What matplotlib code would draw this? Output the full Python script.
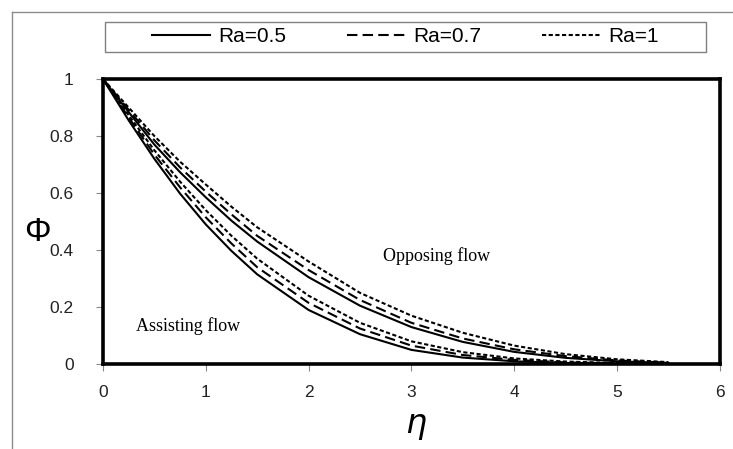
import matplotlib
matplotlib.use("Agg")
import matplotlib.pyplot as plt
from matplotlib.lines import Line2D
from matplotlib.patches import Rectangle

# similarity variable
eta = [0, 0.25, 0.5, 0.75, 1, 1.25, 1.5, 2, 2.5, 3, 3.5, 4, 4.5, 5, 5.5]

# assisting flow profiles
assist_05 = [1, 0.855, 0.72, 0.598, 0.49, 0.397, 0.315, 0.19, 0.105, 0.05, 0.023, 0.01, 0.004, 0.002, 0.001]
assist_07 = [1, 0.865, 0.735, 0.62, 0.515, 0.423, 0.34, 0.215, 0.125, 0.065, 0.032, 0.015, 0.006, 0.003, 0.001]
assist_1 = [1, 0.873, 0.75, 0.64, 0.54, 0.45, 0.37, 0.24, 0.145, 0.08, 0.042, 0.02, 0.009, 0.004, 0.002]

# opposing flow profiles
oppose_05 = [1, 0.884, 0.77, 0.673, 0.585, 0.503, 0.43, 0.305, 0.205, 0.13, 0.078, 0.043, 0.022, 0.01, 0.004]
oppose_07 = [1, 0.892, 0.785, 0.69, 0.605, 0.525, 0.45, 0.33, 0.225, 0.145, 0.09, 0.052, 0.028, 0.013, 0.005]
oppose_1 = [1, 0.90, 0.80, 0.71, 0.63, 0.552, 0.48, 0.36, 0.25, 0.17, 0.11, 0.065, 0.035, 0.017, 0.007]

labels = ["Ra=0.5", "Ra=0.7", "Ra=1"]

sans = "Liberation Sans"
serif = "Liberation Serif"

fig = plt.figure(figsize=(7.33, 4.49), dpi=100)
ax = fig.add_axes([0.1405, 0.189, 0.8415, 0.635])

styles = [
    dict(linestyle="-"),
    dict(linestyle=(0, (5, 2.5))),
    dict(linestyle=(0, (2, 1.2))),
]

handles = []
for ys, st in zip([assist_05, assist_07, assist_1], styles):
    h, = ax.plot(eta, ys, color="black", linewidth=1.5, **st)
    handles.append(h)
for ys, st in zip([oppose_05, oppose_07, oppose_1], styles):
    ax.plot(eta, ys, color="black", linewidth=1.5, **st)

ax.set_xlim(0, 6)
ax.set_ylim(0, 1)
ax.set_xticks(range(0, 7))
ax.set_yticks([0, 0.2, 0.4, 0.6, 0.8, 1])
ax.set_yticklabels(["0", "0.2", "0.4", "0.6", "0.8", "1"])

for s in ax.spines.values():
    s.set_linewidth(2.6)
    s.set_color("black")

ax.tick_params(axis="both", direction="out", length=5, width=0.8, color="#888888",
               labelsize=12.5, labelcolor="#222222")
ax.tick_params(axis="y", pad=16)
ax.tick_params(axis="x", pad=10)
for lbl in ax.get_xticklabels() + ax.get_yticklabels():
    lbl.set_family(sans)

ax.text(3.24, 0.38, "Opposing flow", family=serif, fontsize=13, ha="center", va="center")
ax.text(0.83, 0.133, "Assisting flow", family=serif, fontsize=13, ha="center", va="center")

fig.text(37 / 733, 1 - 232 / 449, "Φ", family=sans, fontsize=24, ha="center", va="center")
fig.text(416 / 733, 1 - 424 / 449, "η", family="DejaVu Sans", style="italic",
         fontsize=24, ha="center", va="center")

# legend box drawn separately, legend itself frameless
fig.add_artist(Rectangle((105 / 733, 1 - 52 / 449), 601 / 733, 30 / 449,
                         transform=fig.transFigure, fill=False,
                         edgecolor="#808080", linewidth=1.0))
fig.legend(handles, labels, loc="center", bbox_to_anchor=(405.5 / 733, 1 - 37 / 449),
           ncol=3, frameon=False, prop={"family": sans, "size": 15},
           handlelength=2.8, handletextpad=0.4, columnspacing=2.9, borderpad=0)

# outer chart-area border (left and top only)
fig.add_artist(Line2D([12 / 733, 12 / 733], [0, 1 - 12 / 449], transform=fig.transFigure,
                      color="#8c8c8c", linewidth=1.0))
fig.add_artist(Line2D([12 / 733, 1], [1 - 12 / 449, 1 - 12 / 449], transform=fig.transFigure,
                      color="#8c8c8c", linewidth=1.0))

fig.savefig("out.png", dpi=100)
